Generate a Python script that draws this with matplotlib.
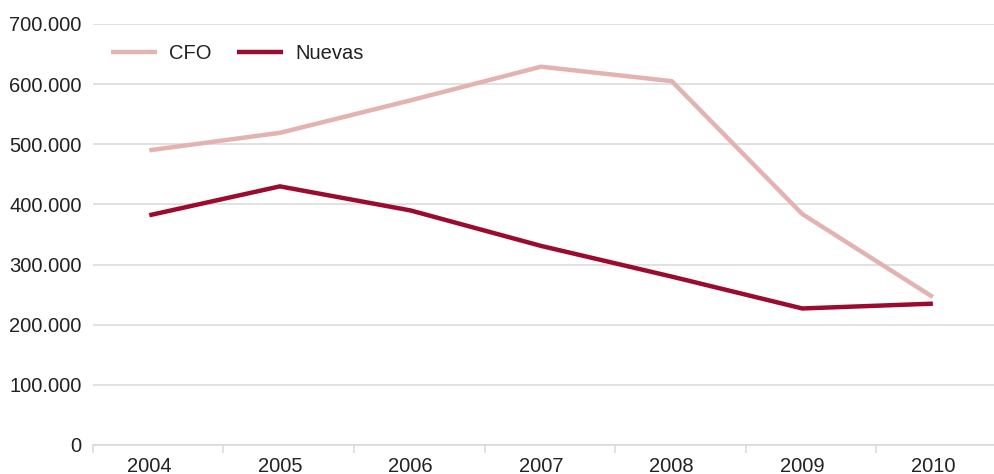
import matplotlib
matplotlib.use("Agg")
import matplotlib.pyplot as plt
from matplotlib.ticker import FuncFormatter, FixedLocator

# values
years = ["2004", "2005", "2006", "2007", "2008", "2009", "2010"]
cfo = [490000, 519000, 573000, 629000, 605000, 384000, 246000]
nuevas = [382000, 430000, 390000, 331000, 280000, 227000, 235000]

GRID = "#d9d9d9"
TEXT = "#222222"

plt.rcParams["font.family"] = ["Liberation Sans", "DejaVu Sans"]

fig = plt.figure(figsize=(9.94, 4.74), dpi=100)
ax = fig.add_axes([0.0933, 0.0612, 0.9067, 0.8882])

x = list(range(len(years)))
ax.plot(x, cfo, color="#e2b3b0", linewidth=3.2, label="CFO", solid_capstyle="butt")
ax.plot(x, nuevas, color="#9b0b30", linewidth=3.2, label="Nuevas", solid_capstyle="butt")

ax.set_xlim(-0.433, 6.468)
ax.set_ylim(0, 700000)
ax.set_yticks(range(0, 700001, 100000))
ax.yaxis.set_major_formatter(FuncFormatter(lambda v, p: f"{int(v):,}".replace(",", ".")))
ax.grid(axis="y", color=GRID, linewidth=1.1)
ax.set_axisbelow(True)

# category labels at the points, tick marks between categories
ax.set_xticks(x)
ax.set_xticklabels(years)
ax.xaxis.set_minor_locator(FixedLocator([i - 0.433 for i in range(len(years))]))
ax.tick_params(axis="x", which="major", length=0, pad=9, labelsize=14.5, labelcolor=TEXT)
ax.tick_params(axis="x", which="minor", length=6, width=1.1, color=GRID, direction="out")
ax.tick_params(axis="y", length=0, pad=8, labelsize=14.5, labelcolor=TEXT)

for side in ["top", "right", "left"]:
    ax.spines[side].set_visible(False)
ax.spines["bottom"].set_color(GRID)
ax.spines["bottom"].set_linewidth(1.1)

ax.legend(loc="upper left", bbox_to_anchor=(0.02, 0.953), frameon=False, ncol=2,
          fontsize=14.5, handlelength=2.3, handletextpad=0.6, columnspacing=1.25,
          borderaxespad=0, borderpad=0, labelcolor=TEXT)

fig.savefig("out.png", dpi=100)
